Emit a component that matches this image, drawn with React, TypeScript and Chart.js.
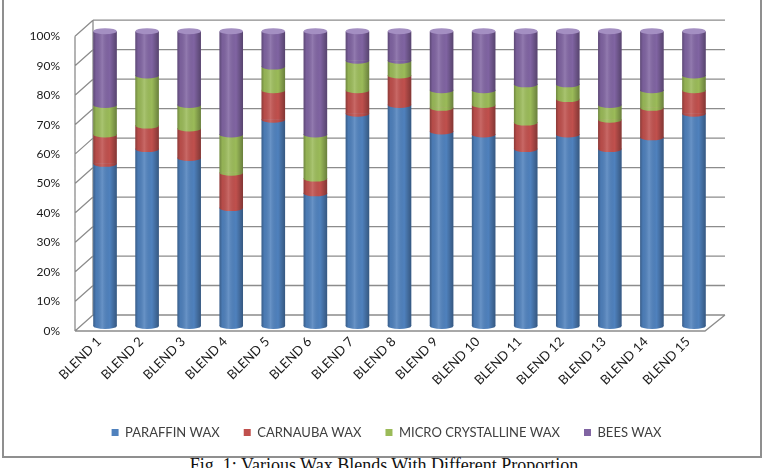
import React, { useEffect, useRef } from "react";
import { Chart, registerables } from "chart.js";

Chart.register(...registerables);

const blends = [
  "BLEND 1", "BLEND 2", "BLEND 3", "BLEND 4", "BLEND 5",
  "BLEND 6", "BLEND 7", "BLEND 8", "BLEND 9", "BLEND 10",
  "BLEND 11", "BLEND 12", "BLEND 13", "BLEND 14", "BLEND 15",
];
const paraffinWax = [55, 60, 57, 40, 70, 45, 72, 75, 66, 65, 60, 65, 60, 64, 72];
const carnaubaWax = [10, 8, 10, 12, 10, 5, 8, 10, 8, 10, 9, 12, 10, 10, 8];
const microCrystallineWax = [10, 17, 8, 13, 8, 15, 10, 5, 6, 5, 13, 5, 5, 6, 5];
const beesWax = [25, 15, 25, 35, 12, 35, 10, 10, 20, 20, 18, 18, 25, 20, 15];
const yTicks = [0, 10, 20, 30, 40, 50, 60, 70, 80, 90, 100];

const seriesNames = ["PARAFFIN WAX", "CARNAUBA WAX", "MICRO CRYSTALLINE WAX", "BEES WAX"];
const seriesColors = ["#4f81bd", "#c0504d", "#9bbb59", "#8064a2"];
const capColors = ["#7ea5d6", "#d98583", "#bdd68a", "#a48fc2"];

// depth of the 3-D box drawn around the plot
const FRONT_DX = -9;
const FRONT_DY = 5;
const BACK_DX = 9;
const BACK_DY = -11;
// horizontal nudge of the legend row
const LEGEND_SHIFT = 14;

const wallsPlugin = {
  id: "walls3d",
  afterLayout(chart: any) {
    if (chart.legend) {
      chart.legend.left += LEGEND_SHIFT;
      chart.legend.right += LEGEND_SHIFT;
    }
  },
  beforeDatasetsDraw(chart: any) {
    const { ctx, chartArea, scales } = chart;
    const y = scales.y;
    const l = chartArea.left;
    const r = chartArea.right;
    ctx.save();
    ctx.strokeStyle = "#8c8c8c";
    ctx.lineWidth = 1.3;
    ctx.beginPath();
    for (const v of yTicks) {
      const py = y.getPixelForValue(v);
      // back wall gridline
      ctx.moveTo(l + BACK_DX, py + BACK_DY);
      ctx.lineTo(r + BACK_DX + 1, py + BACK_DY);
      // side wall slant
      ctx.moveTo(l + FRONT_DX, py + FRONT_DY);
      ctx.lineTo(l + BACK_DX, py + BACK_DY);
    }
    const y0 = y.getPixelForValue(0);
    const y100 = y.getPixelForValue(100);
    // edges of the side wall
    ctx.moveTo(l + FRONT_DX, y100 + FRONT_DY);
    ctx.lineTo(l + FRONT_DX, y0 + FRONT_DY);
    ctx.moveTo(l + BACK_DX, y100 + BACK_DY);
    ctx.lineTo(l + BACK_DX, y0 + BACK_DY);
    // floor front edge and right slant
    ctx.moveTo(l + FRONT_DX, y0 + FRONT_DY);
    ctx.lineTo(r + FRONT_DX - 1, y0 + FRONT_DY);
    ctx.lineTo(r + BACK_DX + 1, y0 + BACK_DY);
    ctx.stroke();
    ctx.restore();
  },
  afterDatasetsDraw(chart: any) {
    const { ctx } = chart;
    const n = chart.data.datasets.length;
    ctx.save();
    for (let d = 0; d < n; d++) {
      const meta = chart.getDatasetMeta(d);
      meta.data.forEach((bar: any) => {
        const { x, y, base, width } = bar.getProps(["x", "y", "base", "width"], true);
        const rx = width / 2;
        const ry = 3;
        // curved lower edge of each segment
        ctx.fillStyle = seriesColors[d];
        ctx.beginPath();
        ctx.moveTo(x - rx, base - 0.5);
        ctx.ellipse(x, base, rx, ry, 0, Math.PI, 0, true);
        ctx.lineTo(x + rx, base - 0.5);
        ctx.closePath();
        ctx.fill();
        // cylindrical shading
        const g = ctx.createLinearGradient(x - rx, 0, x + rx, 0);
        g.addColorStop(0, "rgba(0,0,0,0.28)");
        g.addColorStop(0.12, "rgba(0,0,0,0.05)");
        g.addColorStop(0.38, "rgba(255,255,255,0.14)");
        g.addColorStop(0.7, "rgba(0,0,0,0.0)");
        g.addColorStop(1, "rgba(0,0,0,0.32)");
        ctx.fillStyle = g;
        ctx.beginPath();
        ctx.moveTo(x - rx, y);
        ctx.lineTo(x - rx, base);
        ctx.ellipse(x, base, rx, ry, 0, Math.PI, 0, true);
        ctx.lineTo(x + rx, y);
        if (d > 0) {
          // leave the dip of this segment's curved base to the segment itself
        }
        ctx.closePath();
        ctx.fill();
        if (d === n - 1) {
          ctx.fillStyle = capColors[d];
          ctx.beginPath();
          ctx.ellipse(x, y, rx, ry, 0, 0, Math.PI * 2);
          ctx.fill();
        }
      });
    }
    ctx.restore();
  },
};

export default function App() {
  const canvasRef = useRef<HTMLCanvasElement | null>(null);

  useEffect(() => {
    if (!canvasRef.current) return;
    const values = [paraffinWax, carnaubaWax, microCrystallineWax, beesWax];
    const chart = new Chart(canvasRef.current, {
      type: "bar",
      data: {
        labels: blends,
        datasets: values.map((v, i) => ({
          label: seriesNames[i],
          data: v,
          backgroundColor: seriesColors[i],
          borderWidth: 0,
          barPercentage: 0.56,
          categoryPercentage: 1,
        })),
      },
      options: {
        responsive: true,
        maintainAspectRatio: false,
        animation: false,
        layout: { padding: { left: 30, right: 53, top: 27, bottom: 6 } },
        plugins: {
          legend: {
            position: "bottom",
            labels: {
              boxWidth: 7,
              boxHeight: 7,
              padding: 24,
              color: "#404040",
              font: { family: "Lato", size: 13 },
            },
          },
          tooltip: { enabled: false },
        },
        scales: {
          x: {
            stacked: true,
            grid: { display: false },
            border: { display: false },
            ticks: {
              minRotation: 45,
              maxRotation: 45,
              color: "#1a1a1a",
              padding: 0,
              labelOffset: -6,
              font: { family: "Lato", size: 13 },
            },
            afterFit(scale: any) {
              scale.height = 76;
            },
          },
          y: {
            stacked: true,
            min: 0,
            max: 100,
            grid: { display: false, drawTicks: false },
            border: { display: false },
            ticks: {
              stepSize: 10,
              padding: 24,
              labelOffset: 5,
              color: "#1a1a1a",
              font: { family: "Lato", size: 12 },
              callback: (v: any) => v + "%",
            },
            afterFit(scale: any) {
              scale.width = 54;
            },
          },
        },
      },
      plugins: [wallsPlugin],
    });
    return () => chart.destroy();
  }, []);

  return (
    <div style={{ position: "fixed", left: 0, top: 0, width: 768, height: 468, background: "#fff", overflow: "hidden" }}>
      <div
        style={{
          position: "absolute",
          left: 2,
          top: -4,
          width: 756,
          height: 458,
          border: "2px solid #8f8f8f",
        }}
      />
      <div style={{ position: "absolute", left: 0, top: 0, width: 768, height: 455 }}>
        <canvas ref={canvasRef} />
      </div>
      <div
        style={{
          position: "absolute",
          left: 0,
          top: 456,
          width: 768,
          textAlign: "center",
          fontFamily: "'Liberation Serif', 'Times New Roman', serif",
          fontSize: 18,
          lineHeight: "18px",
          color: "#111",
        }}
      >
        Fig. 1: Various Wax Blends With Different Proportion
      </div>
    </div>
  );
}
